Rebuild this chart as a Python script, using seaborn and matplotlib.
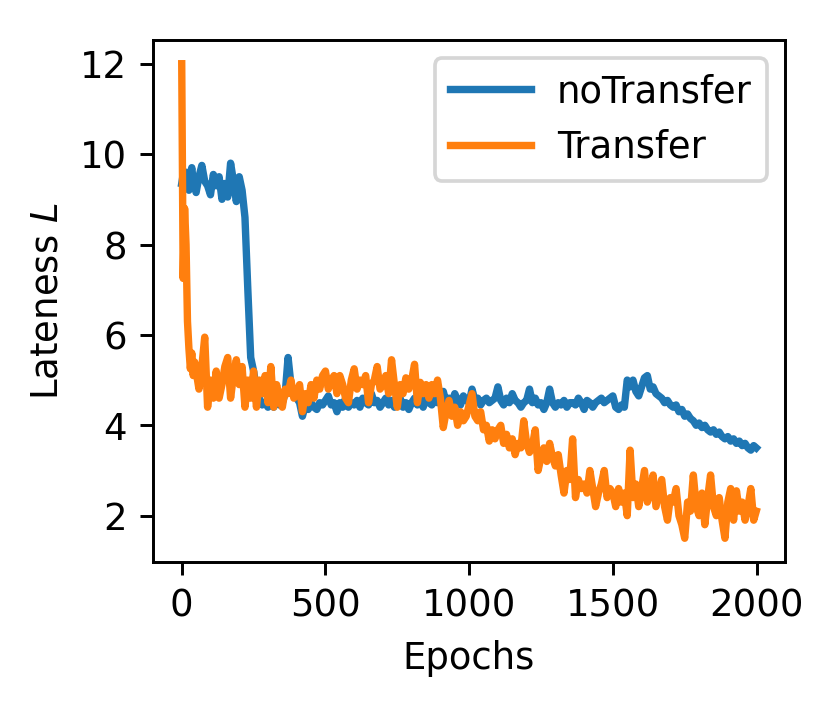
import numpy as np
import pandas as pd
import matplotlib
matplotlib.use("Agg")
import matplotlib.pyplot as plt
import seaborn as sns

# Epoch positions of the samples
epochs = list(range(0, 50, 5)) + list(range(50, 2000, 10)) + [1999]

no_transfer = [
    9.35, 9.55, 9.3, 9.6, 9.45, 9.2, 9.55, 9.7, 9.4, 9.3,          # 0-45
    9.15, 9.5, 9.75, 9.4, 9.3,                                      # 50-90
    9.1, 9.55, 9.3, 9.5, 9.0, 9.35, 9.05, 9.8, 9.4, 8.95,           # 100-190
    9.5, 9.2, 8.6, 7.0, 5.5, 5.2, 4.8, 4.6, 4.45, 4.5,              # 200-290
    4.4, 4.55, 4.4, 4.6, 4.45, 4.5, 4.7, 5.5, 4.9, 4.65,            # 300-390
    4.6, 4.5, 4.2, 4.45, 4.35, 4.5, 4.4, 4.35, 4.5, 4.45,           # 400-490
    4.55, 4.65, 4.45, 4.5, 4.3, 4.5, 4.4, 4.6, 4.4, 4.5,            # 500-590
    4.45, 4.55, 4.4, 4.6, 4.5, 4.45, 4.7, 4.5, 4.55, 4.4,           # 600-690
    4.5, 4.6, 4.45, 4.55, 4.4, 4.5, 4.6, 4.4, 4.5, 4.35,            # 700-790
    4.5, 4.6, 4.45, 4.55, 4.4, 4.6, 4.5, 4.45, 4.55, 4.5,           # 800-890
    4.6, 4.75, 4.5, 4.6, 4.5, 4.7, 4.55, 4.45, 4.65, 4.55,          # 900-990
    4.5, 4.8, 4.55, 4.6, 4.45, 4.55, 4.6, 4.5, 4.55, 4.6,           # 1000-1090
    4.85, 4.55, 4.45, 4.6, 4.5, 4.7, 4.55, 4.5, 4.4, 4.5,           # 1100-1190
    4.55, 4.8, 4.5, 4.6, 4.45, 4.5, 4.35, 4.5, 4.8, 4.5,            # 1200-1290
    4.4, 4.5, 4.45, 4.55, 4.4, 4.5, 4.5, 4.45, 4.6, 4.5,            # 1300-1390
    4.35, 4.55, 4.5, 4.4, 4.5, 4.55, 4.6, 4.5, 4.55, 4.6,           # 1400-1490
    4.65, 4.4, 4.35, 4.45, 4.4, 5.0, 4.85, 5.0, 4.75, 4.65,         # 1500-1590
    4.85, 5.05, 5.1, 4.8, 4.85, 4.7, 4.65, 4.6, 4.5, 4.55,          # 1600-1690
    4.45, 4.4, 4.45, 4.3, 4.35, 4.2, 4.25, 4.15, 4.1, 4.0,          # 1700-1790
    4.05, 3.95, 4.0, 3.9, 3.85, 3.9, 3.8, 3.85, 3.75, 3.7,          # 1800-1890
    3.75, 3.65, 3.7, 3.6, 3.65, 3.55, 3.6, 3.5, 3.45, 3.55,         # 1900-1990
    3.5,                                                            # 1999
]

transfer = [
    12.0, 7.25, 8.8, 8.0, 6.3, 5.7, 5.25, 5.6, 5.1, 5.4,            # 0-45
    5.2, 4.8, 5.3, 5.95, 4.4,                                       # 50-90
    5.0, 4.6, 5.2, 4.6, 4.9, 5.3, 5.5, 4.6, 5.1, 5.45,              # 100-190
    4.9, 5.3, 4.4, 5.0, 4.6, 5.2, 4.4, 5.0, 4.7, 5.1,               # 200-290
    4.5, 5.3, 4.4, 4.9, 4.6, 4.4, 4.8, 4.7, 5.0, 4.6,               # 300-390
    4.7, 4.9, 4.3, 4.7, 4.5, 4.9, 4.6, 5.0, 4.8, 5.1,               # 400-490
    5.2, 4.8, 5.0, 5.1, 4.7, 5.1, 4.9, 4.6, 4.5, 5.0,               # 500-590
    5.25, 4.8, 5.0, 4.9, 5.1, 4.5, 4.9, 5.0, 5.3, 4.8,              # 600-690
    4.9, 5.1, 4.7, 5.45, 4.9, 4.4, 4.9, 4.7, 5.05, 4.8,             # 700-790
    5.0, 5.35, 4.5, 4.95, 4.7, 4.9, 4.6, 4.9, 4.7, 5.0,             # 800-890
    4.6, 3.95, 4.3, 4.55, 4.2, 4.4, 4.0, 4.3, 4.1, 4.2,             # 900-990
    4.45, 4.7, 4.2, 4.1, 4.3, 3.9, 4.0, 3.65, 3.9, 3.7,             # 1000-1090
    3.9, 4.0, 3.6, 3.8, 3.5, 3.7, 3.35, 3.6, 3.5, 4.1,              # 1100-1190
    3.6, 3.4, 3.55, 3.9, 3.0, 3.3, 3.5, 3.2, 3.6, 3.3,              # 1200-1290
    3.1, 3.35, 2.9, 2.5, 3.0, 2.8, 3.7, 2.4, 2.8, 2.6,              # 1300-1390
    2.7, 2.5, 3.0, 2.6, 2.2, 2.5, 2.7, 3.0, 2.4, 2.6,               # 1400-1490
    2.5, 2.2, 2.6, 2.3, 2.5, 2.0, 3.45, 2.4, 2.7, 2.2,              # 1500-1590
    2.6, 3.0, 2.3, 2.5, 2.9, 2.2, 2.5, 2.8, 2.2, 1.9,               # 1600-1690
    2.4, 2.3, 2.6, 2.0, 1.8, 1.5, 2.3, 2.1, 2.9, 2.2,               # 1700-1790
    2.0, 2.5, 1.8, 2.4, 2.9, 2.2, 2.0, 2.4, 1.9, 1.5,               # 1800-1890
    2.3, 2.6, 1.9, 2.55, 2.1, 2.3, 1.9, 2.2, 2.6, 1.9,              # 1900-1990
    2.1,                                                            # 1999
]

series_names = ["noTransfer", "Transfer"]
series_colors = ["#1f77b4", "#ff7f0e"]

df = pd.concat([
    pd.DataFrame({"Epochs": epochs, "L": no_transfer, "series": series_names[0]}),
    pd.DataFrame({"Epochs": epochs, "L": transfer, "series": series_names[1]}),
], ignore_index=True)

DPI = 266
fig = plt.figure(figsize=(832 / DPI, 705 / DPI), dpi=DPI)
ax = fig.add_axes([153 / 832, 1 - 562 / 705, (785 - 153) / 832, (562 - 40) / 705])

sns.lineplot(data=df, x="Epochs", y="L", hue="series", hue_order=series_names,
             palette=dict(zip(series_names, series_colors)), linewidth=2.0,
             estimator=None, ax=ax)

ax.set_xlabel("Epochs")
ax.set_ylabel("Lateness $L$")
ax.set_xticks([0, 500, 1000, 1500, 2000])
ax.set_yticks([2, 4, 6, 8, 10, 12])

handles, labels = ax.get_legend_handles_labels()
ax.legend(handles, labels, loc="upper right", handlelength=2.2, handletextpad=0.7)

fig.savefig("out.png", dpi=DPI)
